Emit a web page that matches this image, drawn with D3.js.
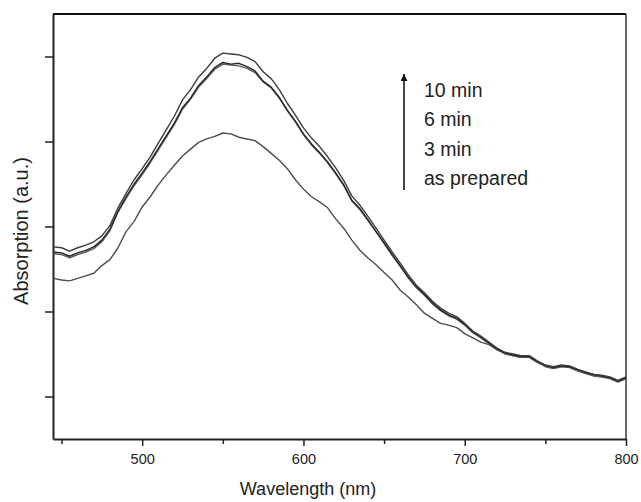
<!DOCTYPE html>
<html>
<head>
<meta charset="utf-8">
<script src="https://cdnjs.cloudflare.com/ajax/libs/d3/7.8.5/d3.min.js"></script>
<style>
  html, body { margin: 0; padding: 0; background: #fff; }
  svg { display: block; font-family: "Liberation Sans", Arial, sans-serif; }
</style>
</head>
<body>
<div id="chart"></div>
<script>
// wavelength grid (nm)
const wavelengths = [
    445, 450, 455, 460, 465, 470, 475, 480, 485, 490, 495, 500,
    505, 510, 515, 520, 525, 530, 535, 540, 545, 550, 555, 560,
    565, 570, 575, 580, 585, 590, 595, 600, 605, 610, 615, 620,
    625, 630, 635, 640, 645, 650, 655, 660, 665, 670, 675, 680,
    685, 690, 695, 700, 705, 710, 715, 720, 725, 730, 735, 740,
    745, 750, 755, 760, 765, 770, 775, 780, 785, 790, 795, 800
];

const abs10min = [
    0.276, 0.275, 0.271, 0.275, 0.278, 0.282, 0.289, 0.301, 0.322, 0.339, 0.355, 0.368,
    0.382, 0.398, 0.414, 0.430, 0.449, 0.461, 0.476, 0.486, 0.498, 0.504, 0.503, 0.502,
    0.499, 0.494, 0.482, 0.474, 0.461, 0.445, 0.431, 0.416, 0.404, 0.394, 0.382, 0.369,
    0.354, 0.336, 0.325, 0.312, 0.298, 0.284, 0.270, 0.257, 0.243, 0.231, 0.222, 0.212,
    0.204, 0.198, 0.194, 0.186, 0.177, 0.171, 0.164, 0.157, 0.152, 0.150, 0.148, 0.148,
    0.142, 0.137, 0.135, 0.137, 0.136, 0.132, 0.129, 0.126, 0.125, 0.123, 0.119, 0.123
];

const abs6min = [
    0.270, 0.269, 0.265, 0.269, 0.272, 0.276, 0.284, 0.297, 0.318, 0.335, 0.350, 0.363,
    0.377, 0.392, 0.407, 0.422, 0.440, 0.451, 0.466, 0.476, 0.487, 0.493, 0.491, 0.492,
    0.488, 0.483, 0.471, 0.464, 0.452, 0.437, 0.424, 0.409, 0.397, 0.387, 0.376, 0.363,
    0.349, 0.331, 0.321, 0.308, 0.294, 0.281, 0.267, 0.254, 0.240, 0.229, 0.220, 0.210,
    0.202, 0.196, 0.192, 0.185, 0.176, 0.170, 0.163, 0.156, 0.151, 0.149, 0.147, 0.147,
    0.141, 0.137, 0.134, 0.136, 0.135, 0.132, 0.128, 0.126, 0.124, 0.122, 0.118, 0.122
];

const abs3min = [
    0.268, 0.267, 0.263, 0.267, 0.270, 0.274, 0.282, 0.295, 0.317, 0.333, 0.348, 0.361,
    0.375, 0.390, 0.405, 0.420, 0.438, 0.450, 0.464, 0.474, 0.485, 0.491, 0.490, 0.489,
    0.486, 0.481, 0.470, 0.463, 0.451, 0.436, 0.423, 0.408, 0.396, 0.386, 0.375, 0.362,
    0.348, 0.330, 0.320, 0.307, 0.294, 0.280, 0.266, 0.253, 0.240, 0.228, 0.219, 0.209,
    0.201, 0.195, 0.191, 0.184, 0.175, 0.169, 0.162, 0.155, 0.150, 0.148, 0.146, 0.146,
    0.140, 0.135, 0.133, 0.135, 0.134, 0.130, 0.127, 0.124, 0.123, 0.121, 0.117, 0.121
];

const absPrepared = [
    0.239, 0.237, 0.236, 0.239, 0.242, 0.245, 0.254, 0.261, 0.275, 0.294, 0.306, 0.323,
    0.335, 0.349, 0.361, 0.372, 0.383, 0.391, 0.399, 0.403, 0.406, 0.410, 0.409, 0.405,
    0.403, 0.401, 0.394, 0.386, 0.378, 0.368, 0.355, 0.344, 0.335, 0.329, 0.322, 0.309,
    0.298, 0.284, 0.272, 0.263, 0.255, 0.246, 0.237, 0.225, 0.217, 0.208, 0.198, 0.192,
    0.186, 0.184, 0.181, 0.174, 0.169, 0.164, 0.161, 0.155, 0.151, 0.148, 0.146, 0.147,
    0.141, 0.136, 0.134, 0.136, 0.135, 0.131, 0.128, 0.125, 0.124, 0.122, 0.118, 0.121
];

const seriesList = [
    { name: 'as prepared', values: absPrepared, color: '#4d4d4d' },
    { name: '3 min', values: abs3min, color: '#5a5a5a' },
    { name: '6 min', values: abs6min, color: '#262626' },
    { name: '10 min', values: abs10min, color: '#3c3c3c' }
];

const xMajorTicks = [500, 600, 700, 800];
const xMinorTicks = [450, 550, 650, 750];
const yTicks = [0.1, 0.2, 0.3, 0.4, 0.5];
const legendLabels = ['10 min', '6 min', '3 min', 'as prepared'];

const width = 641;
const height = 502;
const margin = { top: 14, right: 15, bottom: 63, left: 53 };

const svg = d3.select('#chart').append('svg')
    .attr('width', width)
    .attr('height', height);

const x = d3.scaleLinear()
    .domain([444.7, 800])
    .range([margin.left, width - margin.right]);

const y = d3.scaleLinear()
    .domain([0.05, 0.55])
    .range([height - margin.bottom, margin.top]);

// frame: top and right
svg.append('line')
    .attr('x1', margin.left).attr('x2', width - margin.right)
    .attr('y1', margin.top).attr('y2', margin.top)
    .attr('stroke', '#111').attr('stroke-width', 2);
svg.append('line')
    .attr('x1', width - margin.right).attr('x2', width - margin.right)
    .attr('y1', margin.top).attr('y2', height - margin.bottom)
    .attr('stroke', '#444').attr('stroke-width', 1.6);

// x axis with major + minor ticks
const xAxis = svg.append('g')
    .attr('transform', `translate(0,${height - margin.bottom})`)
    .call(d3.axisBottom(x).tickValues(xMajorTicks).tickSize(7).tickPadding(8).tickSizeOuter(0));
xAxis.select('.domain').attr('stroke', '#222').attr('stroke-width', 2);
xAxis.selectAll('.tick line').attr('stroke', '#222').attr('stroke-width', 1.5);
xAxis.selectAll('.tick text')
    .attr('font-size', '14.5px')
    .attr('fill', '#222')
    .attr('font-family', '"Liberation Sans", Arial, sans-serif');

const xMinor = svg.append('g')
    .attr('transform', `translate(0,${height - margin.bottom})`)
    .call(d3.axisBottom(x).tickValues(xMinorTicks).tickSize(5).tickFormat(''));
xMinor.select('.domain').remove();
xMinor.selectAll('.tick line').attr('stroke', '#222').attr('stroke-width', 1.5);

// y axis, ticks only
const yAxis = svg.append('g')
    .attr('transform', `translate(${margin.left},0)`)
    .call(d3.axisLeft(y).tickValues(yTicks).tickSize(8).tickFormat('').tickSizeOuter(0));
yAxis.select('.domain').attr('stroke', '#222').attr('stroke-width', 2);
yAxis.selectAll('.tick line').attr('stroke', '#222').attr('stroke-width', 1.5);

// axis titles
svg.append('text')
    .attr('x', 308)
    .attr('y', 495)
    .attr('text-anchor', 'middle')
    .attr('font-size', '18px')
    .attr('fill', '#222')
    .text('Wavelength (nm)');

svg.append('text')
    .attr('transform', 'translate(28,231) rotate(-90)')
    .attr('text-anchor', 'middle')
    .attr('font-size', '20px')
    .attr('fill', '#222')
    .text('Absorption (a.u.)');

// spectra
const line = d3.line()
    .x((d, i) => x(wavelengths[i]))
    .y(d => y(d));

svg.append('g')
    .selectAll('path')
    .data(seriesList)
    .enter().append('path')
    .attr('d', d => line(d.values))
    .attr('fill', 'none')
    .attr('stroke', d => d.color)
    .attr('stroke-width', 1.4)
    .attr('stroke-linejoin', 'round');

// legend arrow + labels
svg.append('defs').append('marker')
    .attr('id', 'arrow')
    .attr('viewBox', '0 -5 10 10')
    .attr('refX', 10)
    .attr('refY', 0)
    .attr('markerWidth', 9)
    .attr('markerHeight', 7)
    .attr('markerUnits', 'userSpaceOnUse')
    .attr('orient', 'auto')
    .append('path')
    .attr('d', 'M0,-5L10,0L0,5Z')
    .attr('fill', '#111');

svg.append('line')
    .attr('x1', 404).attr('x2', 404)
    .attr('y1', 190).attr('y2', 74)
    .attr('stroke', '#333')
    .attr('stroke-width', 1.8)
    .attr('marker-end', 'url(#arrow)');

svg.append('g')
    .selectAll('text')
    .data(legendLabels)
    .enter().append('text')
    .attr('x', 424)
    .attr('y', (d, i) => 96.5 + i * 29.5)
    .attr('font-size', '19.5px')
    .attr('fill', '#222')
    .text(d => d);
</script>
</body>
</html>
